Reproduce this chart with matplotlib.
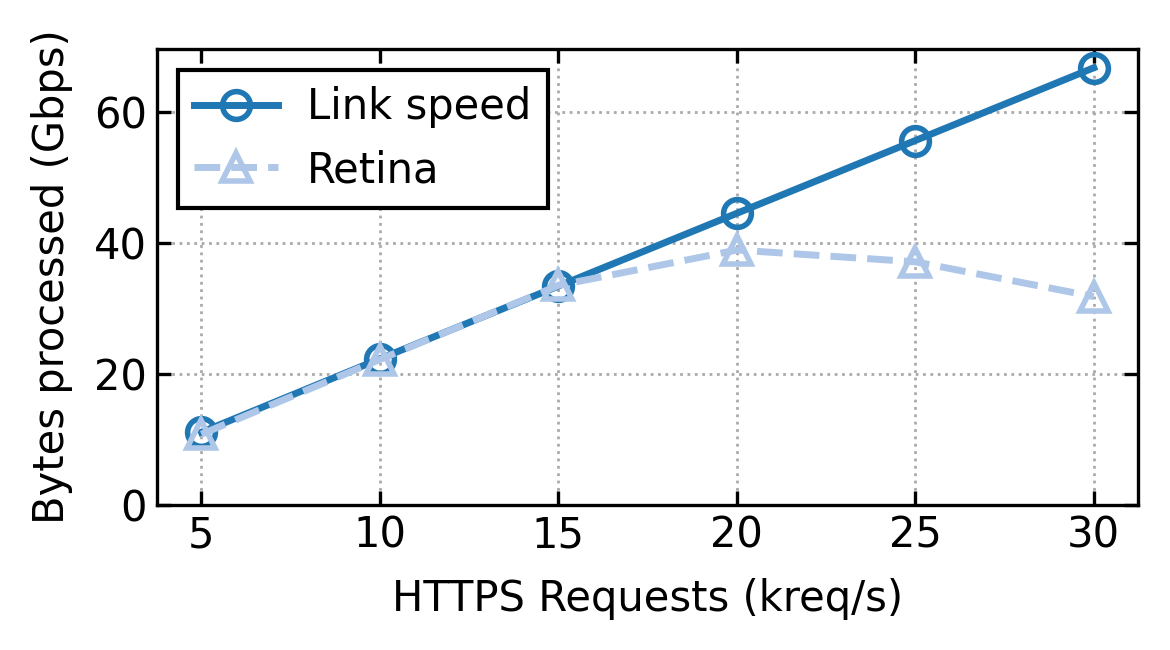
import matplotlib
matplotlib.use("Agg")
import matplotlib.pyplot as plt

# HTTPS request rate (kreq/s)
rates = [5, 10, 15, 20, 25, 30]
link_speed = [11.1, 22.3, 33.4, 44.5, 55.6, 66.7]
retina = [10.8, 22.2, 33.5, 38.9, 37.1, 31.8]

plt.rcParams["font.family"] = "DejaVu Sans"
plt.rcParams["font.size"] = 15

fig, ax = plt.subplots(figsize=(5.85, 3.25), dpi=200)

ax.plot(rates, link_speed, "-o", color="#1f77b4", lw=2.5, ms=10,
        mfc="none", mew=2, label="Link speed")
ax.plot(rates, retina, "--^", color="#aec7e8", lw=2.5, ms=10,
        mfc="none", mew=2, label="Retina")

ax.set_xticks(rates)
ax.set_yticks([0, 20, 40, 60])
ax.set_ylim(0, 69.6)
ax.set_xlabel("HTTPS Requests (kreq/s)", labelpad=7.5)
ax.set_ylabel("Bytes processed (Gbps)", labelpad=7.5)
ax.grid(True, linestyle=":", color="#aaaaaa", lw=1)
ax.tick_params(direction="in", top=True, right=True, width=1.2, length=5)
for s in ax.spines.values():
    s.set_linewidth(1.2)

leg = ax.legend(loc="upper left", fancybox=False, edgecolor="black",
                framealpha=1, borderpad=0.4, handlelength=2.0,
                handletextpad=0.7)
leg.get_frame().set_linewidth(1.5)

fig.subplots_adjust(left=0.134, right=0.973, top=0.925, bottom=0.223)
fig.savefig("out.png")
